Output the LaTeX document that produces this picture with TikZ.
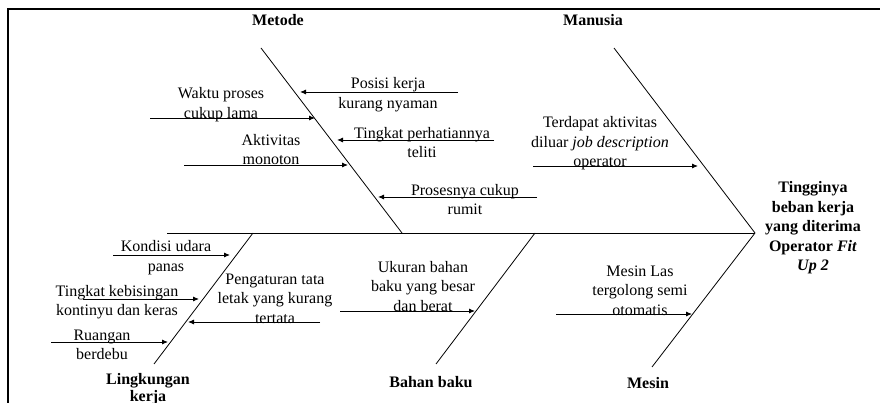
\documentclass[tikz,border=0pt]{standalone}
\usepackage{fontspec}
\setmainfont{Liberation Serif}
\usetikzlibrary{arrows.meta}

\begin{document}
\begin{tikzpicture}[
        x=1pt, y=-1pt,
        font=\fontsize{16}{19.5}\selectfont,
        bone/.style={draw=black, line width=0.8pt},
        causearrow/.style={draw=black, line width=0.9pt, -{Latex[length=6pt,width=5pt]}}
    ]
    %\usetikzlibrary{arrows.meta}

    \tikzstyle{category} = [
        align = center,
        inner sep = 0pt,
        font = \fontsize{16}{17}\selectfont\bfseries
    ]
    \tikzstyle{cause} = [
        align = center,
        inner sep = 0pt
    ]
    \tikzstyle{effect} = [
        align = center,
        inner sep = 0pt,
        font = \fontsize{16}{19.5}\selectfont\bfseries
    ]

    \useasboundingbox (0,0) rectangle (880,403);
    \draw [line width=2pt] (8,403) |- (880,9);

    % spine and bones
    \coordinate (tail) at (167,233);
    \coordinate (head) at (755,233);
    \coordinate (metodeTop) at (261,48);
    \coordinate (metodeEnd) at (402,233);
    \coordinate (manusiaTop) at (614,48);
    \coordinate (lingkunganBottom) at (154,364);
    \coordinate (lingkunganEnd) at (253,233);
    \coordinate (bahanBottom) at (436,364);
    \coordinate (bahanEnd) at (535,233);
    \coordinate (mesinBottom) at (652,367);

    \draw [bone] (tail) -- (head);
    \draw [bone] (metodeTop) -- (metodeEnd);
    \draw [bone] (manusiaTop) -- (head);
    \draw [bone] (lingkunganBottom) -- (lingkunganEnd);
    \draw [bone] (bahanBottom) -- (bahanEnd);
    \draw [bone] (mesinBottom) -- (head);

    \node [category] (metode) at (278,20) {Metode};
    \node [category] (manusia) at (593,20) {Manusia};
    \node [category] (lingkungan) at (148,389) {Lingkungan\\kerja};
    \node [category] (bahan) at (431,382) {Bahan baku};
    \node [category] (mesin) at (648,383) {Mesin};
    \node [effect] (akibat) at (813,228) {Tingginya\\beban kerja\\yang diterima\\Operator \textit{Fit}\\\textit{Up 2}};

    % causes
    \node [cause] (posisi) at (388,94.5) {Posisi kerja\\kurang nyaman};
    \coordinate (posisiS) at (458,92);
    \coordinate (posisiE) at (300,92);
    \draw [causearrow] (posisiS) -- (posisiE);

    \node [cause] (waktu) at (221,104.5) {Waktu proses\\cukup lama};
    \coordinate (waktuS) at (150,118);
    \coordinate (waktuE) at (315,118);
    \draw [causearrow] (waktuS) -- (waktuE);

    \node [cause] (perhatian) at (422,142.5) {Tingkat perhatiannya\\teliti};
    \coordinate (perhatianS) at (494,140);
    \coordinate (perhatianE) at (337,140);
    \draw [causearrow] (perhatianS) -- (perhatianE);

    \node [cause] (aktivitas) at (271,149.5) {Aktivitas\\monoton};
    \coordinate (aktivitasS) at (184,165);
    \coordinate (aktivitasE) at (348,165);
    \draw [causearrow] (aktivitasS) -- (aktivitasE);

    \node [cause] (proses) at (465,199.5) {Prosesnya cukup\\rumit};
    \coordinate (prosesS) at (537,197);
    \coordinate (prosesE) at (378,197);
    \draw [causearrow] (prosesS) -- (prosesE);

    \node [cause] (jobdesc) at (600,143.5) {Terdapat aktivitas\\diluar \textit{job description}\\operator};
    \coordinate (jobdescS) at (533,166);
    \coordinate (jobdescE) at (698,166);
    \draw [causearrow] (jobdescS) -- (jobdescE);

    \node [cause] (udara) at (166,257.5) {Kondisi udara\\panas};
    \coordinate (udaraS) at (113,255);
    \coordinate (udaraE) at (230,255);
    \draw [causearrow] (udaraS) -- (udaraE);

    \node [cause] (bising) at (117,302) {Tingkat kebisingan\\kontinyu dan keras};
    \coordinate (bisingS) at (83,299);
    \coordinate (bisingE) at (199,299);
    \draw [causearrow] (bisingS) -- (bisingE);

    \node [cause] (tataletak) at (275,298.5) {Pengaturan tata\\letak yang kurang\\tertata};
    \coordinate (tataletakS) at (320,322);
    \coordinate (tataletakE) at (188,322);
    \draw [causearrow] (tataletakS) -- (tataletakE);

    \node [cause] (debu) at (102,345) {Ruangan\\berdebu};
    \coordinate (debuS) at (51,342);
    \coordinate (debuE) at (168,342);
    \draw [causearrow] (debuS) -- (debuE);

    \node [cause] (ukuran) at (423,286.5) {Ukuran bahan\\baku yang besar\\dan berat};
    \coordinate (ukuranS) at (340,311);
    \coordinate (ukuranE) at (475,311);
    \draw [causearrow] (ukuranS) -- (ukuranE);

    \node [cause] (las) at (640,290.5) {Mesin Las\\tergolong semi\\otomatis};
    \coordinate (lasS) at (556,314);
    \coordinate (lasE) at (692,314);
    \draw [causearrow] (lasS) -- (lasE);
\end{tikzpicture}
\end{document}
